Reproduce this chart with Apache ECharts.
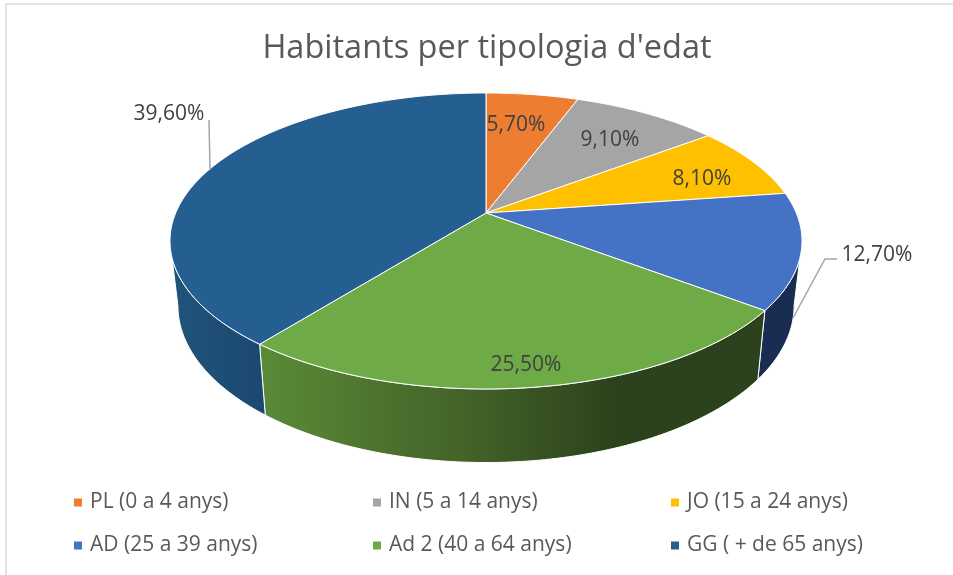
<!DOCTYPE html>
<html>
<head>
<meta charset="utf-8">
<title>Habitants per tipologia d'edat</title>
<script src="https://cdn.jsdelivr.net/npm/echarts@6/dist/echarts.min.js"></script>
<style>
  html, body { margin: 0; padding: 0; background: #fff; }
  #main { width: 953px; height: 575px; }
</style>
</head>
<body>
<div id="main"></div>
<script>
var titleText = "Habitants per tipologia d'edat";
var categories = ['PL (0 a 4 anys)', 'IN (5 a 14 anys)', 'JO (15 a 24 anys)', 'AD (25 a 39 anys)', 'Ad 2 (40 a 64 anys)', 'GG ( + de 65 anys)'];
var percentages = [5.7, 9.1, 8.1, 12.7, 25.5, 39.6];

var topColors = ['#ED7D31', '#A5A5A5', '#FFC000', '#4472C4', '#6EAB47', '#255E91'];
var font = '"Open Sans", sans-serif';

// tilted disc: circle pushed through a simple perspective so the apex sits above the ellipse centre
var apexX = 486, apexY = 213;
var scaleX = 310.3, scaleY = 142.7, persp = -0.189;
var wallScaleX = 0.975, wallScaleY = 1.06, wallDrop = 63;
var labelSpots = [[516, 125], [610, 140], [702, 179], [877, 255], [526, 365], [169, 114]];
var leaders = { 3: [[793, 318], [825, 259], [837, 259]], 5: [[209, 120], [210, 170]] };

var total = percentages.reduce(function (a, b) { return a + b; }, 0);

function rim(angle, onWall) {
  var u = Math.sin(angle), v = -Math.cos(angle), w = 1 + persp * v;
  var dx = scaleX * u / w, dy = scaleY * v / w;
  if (onWall) return [apexX + dx * wallScaleX, apexY + dy * wallScaleY + wallDrop];
  return [apexX + dx, apexY + dy];
}

function sampleAngles(from, to) {
  var list = [], steps = Math.max(2, Math.ceil((to - from) * 60));
  for (var i = 0; i <= steps; i++) list.push(from + (to - from) * i / steps);
  return list;
}

function wallFill(idx) {
  if (idx === 4) {
    return {
      type: 'linear', global: true, x: 261, y: 0, x2: 764, y2: 0,
      colorStops: [
        { offset: 0, color: '#5A8A38' },
        { offset: 0.42, color: '#426127' },
        { offset: 0.7, color: '#2C421C' },
        { offset: 1, color: '#2C421C' }
      ]
    };
  }
  if (idx === 5) {
    return {
      type: 'linear', global: true, x: 177, y: 0, x2: 266, y2: 0,
      colorStops: [{ offset: 0, color: '#215379' }, { offset: 1, color: '#1B4870' }]
    };
  }
  return '#192D52';
}

// only the front of the disc shows its side
var frontStart = Math.acos(persp), frontEnd = 2 * Math.PI - frontStart;

function makeRenderItem(idx, startAngle) {
  return function (params, api) {
    var endAngle = startAngle + api.value(0) / total * 2 * Math.PI;
    var children = [];

    var a0 = Math.max(startAngle, frontStart), a1 = Math.min(endAngle, frontEnd);
    if (a1 > a0) {
      var angles = sampleAngles(a0, a1);
      var wall = angles.map(function (a) { return rim(a, false); });
      angles.reverse().forEach(function (a) { wall.push(rim(a, true)); });
      children.push({
        type: 'polygon',
        shape: { points: wall },
        style: { fill: wallFill(idx), stroke: '#fff', lineWidth: 1 }
      });
    }

    var top = [[apexX, apexY]];
    sampleAngles(startAngle, endAngle).forEach(function (a) { top.push(rim(a, false)); });
    children.push({
      type: 'polygon',
      z2: 2,
      shape: { points: top },
      style: { fill: topColors[idx], stroke: '#fff', lineWidth: 1 }
    });

    if (leaders[idx]) {
      children.push({
        type: 'polyline',
        z2: 3,
        shape: { points: leaders[idx] },
        style: { fill: null, stroke: '#A6A6A6', lineWidth: 1.5 }
      });
    }

    children.push({
      type: 'text',
      z2: 4,
      style: {
        x: labelSpots[idx][0],
        y: labelSpots[idx][1],
        text: api.value(0).toFixed(2).replace('.', ',') + '%',
        fill: '#404040',
        font: '21px ' + font,
        align: 'center',
        verticalAlign: 'middle'
      }
    });

    return { type: 'group', children: children };
  };
}

var series = [];
var running = 0;
categories.forEach(function (name, i) {
  series.push({
    name: name,
    type: 'custom',
    coordinateSystem: 'none',
    itemStyle: { color: topColors[i] },
    renderItem: makeRenderItem(i, running / total * 2 * Math.PI),
    data: [[percentages[i]]]
  });
  running += percentages[i];
});

function legendColumn(left, names) {
  return {
    orient: 'vertical',
    left: left,
    top: 487,
    itemWidth: 8,
    itemHeight: 8,
    itemGap: 22,
    icon: 'rect',
    data: names,
    textStyle: { color: '#595959', fontFamily: font, fontSize: 21, padding: [0, 0, 0, 3] }
  };
}

var chart = echarts.init(document.getElementById('main'), null, { renderer: 'canvas' });
chart.setOption({
  animation: false,
  backgroundColor: '#fff',
  title: {
    text: titleText,
    left: 482,
    top: 27,
    textAlign: 'center',
    textStyle: { color: '#595959', fontFamily: font, fontSize: 32.5, fontWeight: 'normal' }
  },
  legend: [
    legendColumn(69, [categories[0], categories[3]]),
    legendColumn(368, [categories[1], categories[4]]),
    legendColumn(666, [categories[2], categories[5]])
  ],
  graphic: [
    { type: 'line', silent: true, shape: { x1: 6, y1: 4, x2: 953, y2: 4 }, style: { stroke: '#D9D9D9', lineWidth: 1.5 } },
    { type: 'line', silent: true, shape: { x1: 6, y1: 4, x2: 6, y2: 575 }, style: { stroke: '#D9D9D9', lineWidth: 1.5 } }
  ],
  series: series
});
</script>
</body>
</html>
